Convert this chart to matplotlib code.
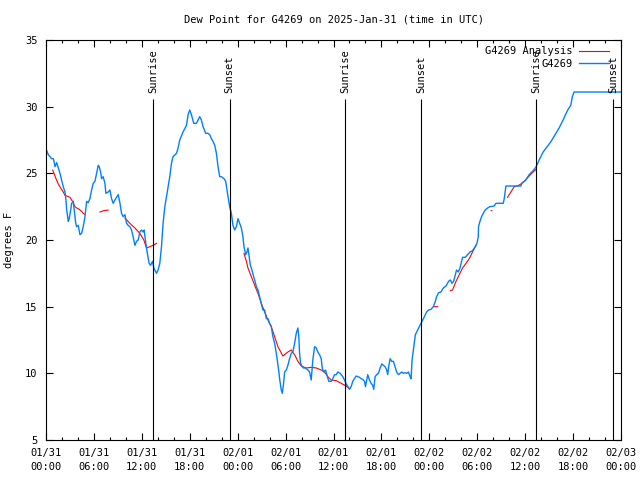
import numpy as np
import matplotlib
matplotlib.use("Agg")
import matplotlib.pyplot as plt
from matplotlib.ticker import MultipleLocator

plt.rcParams['font.family'] = ['DejaVu Sans Mono']
plt.rcParams['font.size'] = 7.5

# hours since 2025-01-31 00:00 UTC
obs_hours = [0.09, 0.29, 0.71, 0.91, 1.0, 1.13, 1.34, 1.75, 1.96, 2.16, 2.38, 2.5, 2.59, 2.79, 2.91,
             3.09, 3.21, 3.41, 3.54, 3.71, 3.84, 4.04, 4.25, 4.46, 4.66, 4.88, 5.09, 5.29, 5.5, 5.71,
             5.91, 6.13, 6.34, 6.54, 6.66, 6.84, 6.96, 7.16, 7.38, 7.5, 7.79, 8.0, 8.21, 8.41, 8.63,
             9.04, 9.25, 9.46, 9.66, 9.88, 10.09, 10.29, 10.5, 10.71, 10.91, 11.13, 11.34, 11.54, 11.75,
             11.96, 12.16, 12.29, 12.5, 12.66, 12.91, 13.09, 13.34, 13.5, 13.84, 14.04, 14.25, 14.46,
             14.66, 14.88, 15.09, 15.29, 15.5, 15.71, 15.91, 16.34, 16.54, 16.75, 17.16, 17.59, 17.79,
             18.0, 18.21, 18.5, 18.84, 19.04, 19.25, 19.46, 19.66, 20.0, 20.29, 20.5, 20.71, 20.91,
             21.13, 21.34, 21.54, 21.75, 21.96, 22.29, 22.5, 22.66, 22.79, 23.0, 23.21, 23.41, 23.63,
             23.84, 24.04, 24.25, 24.46, 24.66, 24.79, 25.0, 25.16, 25.29, 25.41, 25.59, 25.79, 26.0,
             26.13, 26.34, 26.54, 26.75, 26.96, 27.16, 27.38, 27.59, 27.79, 28.0, 28.21, 28.41, 28.63,
             28.84, 28.96, 29.13, 29.25, 29.46, 29.59, 29.75, 29.88, 30.09, 30.29, 30.5, 30.71, 30.91,
             31.13, 31.34, 31.54, 31.66, 31.75, 31.88, 32.09, 32.25, 32.5, 32.79, 33.0, 33.21, 33.41,
             33.63, 33.84, 34.04, 34.25, 34.46, 34.59, 34.75, 35.0, 35.16, 35.41, 35.71, 35.91, 36.13,
             36.34, 36.54, 36.84, 37.16, 37.38, 37.59, 37.91, 38.0, 38.21, 38.41, 38.63, 38.84, 39.04,
             39.25, 39.46, 39.66, 39.88, 40.0, 40.16, 40.29, 40.5, 40.71, 40.91, 41.04, 41.21, 41.41,
             41.63, 41.84, 42.04, 42.25, 42.46, 42.66, 42.79, 42.91, 43.09, 43.29, 43.5, 43.71, 43.91,
             44.13, 44.34, 44.54, 44.75, 44.96, 45.16, 45.38, 45.59, 45.71, 45.84, 46.0, 46.25, 46.41,
             46.66, 46.96, 47.16, 47.38, 47.66, 47.91, 48.21, 48.5, 48.75, 48.91, 49.16, 49.46, 49.75,
             50.09, 50.41, 50.63, 50.84, 51.04, 51.25, 51.41, 51.63, 51.84, 52.04, 52.16, 52.5, 52.79,
             53.09, 53.41, 53.75, 53.96, 54.13, 54.16, 54.34, 54.54, 54.75, 55.0, 55.29, 55.59, 56.13,
             56.34, 57.25, 57.38, 57.59, 59.46, 59.59, 59.88, 60.09, 60.5, 61.0, 61.38, 61.75, 62.25,
             62.75, 63.25, 63.75, 64.25, 64.75, 65.13, 65.38, 65.71, 65.91, 66.13, 72.0]
obs_dewpt = [26.7, 26.4, 26.1, 26.1, 25.9, 25.5, 25.8, 25.0, 24.5, 24.0, 23.6, 23.0, 22.25, 21.4, 21.6,
             22.25, 22.75, 22.9, 22.25, 21.3, 21.0, 21.1, 20.4, 20.5, 21.0, 21.75, 22.9, 22.8, 23.1, 23.75,
             24.25, 24.4, 25.0, 25.6, 25.5, 25.1, 24.6, 24.75, 24.25, 23.5, 23.6, 23.75, 23.1, 22.75, 23.0,
             23.4, 22.8, 22.0, 21.75, 21.9, 21.25, 21.1, 21.0, 20.75, 20.25, 19.6, 19.9, 20.0, 20.6,
             20.75, 20.6, 20.75, 19.75, 19.1, 18.25, 18.1, 18.4, 17.9, 17.5, 17.75, 18.25, 19.5,
             21.25, 22.5, 23.25, 24.0, 24.75, 25.75, 26.25, 26.5, 26.9, 27.5, 28.1, 28.6, 29.4,
             29.75, 29.4, 28.75, 28.75, 29.0, 29.25, 29.0, 28.5, 28.0, 28.0, 27.9, 27.6, 27.4,
             27.1, 26.5, 25.5, 24.75, 24.75, 24.6, 24.4, 23.75, 23.25, 22.5, 22.0, 21.1, 20.75,
             21.0, 21.6, 21.25, 20.9, 20.25, 19.5, 18.9, 19.1, 19.4, 18.9, 18.1, 17.75, 17.25,
             17.0, 16.5, 16.25, 15.75, 15.25, 14.75, 14.75, 14.1, 14.1, 13.75, 13.5, 12.75, 12.25,
             11.5, 11.0, 10.25, 9.6, 8.75, 8.5, 9.25, 10.1, 10.25, 10.6, 11.1, 11.5, 11.6,
             12.25, 13.0, 13.4, 12.75, 11.5, 10.75, 10.5, 10.4, 10.4, 10.25, 10.1, 9.5, 11.0,
             12.0, 11.9, 11.6, 11.4, 11.1, 10.4, 10.1, 10.25, 9.9, 9.4, 9.4, 9.6, 9.9,
             9.9, 10.1, 10.0, 9.75, 9.5, 9.2, 8.9, 8.8, 9.0, 9.4, 9.6, 9.8, 9.75,
             9.7, 9.6, 9.55, 9.4, 9.0, 9.5, 9.9, 9.5, 9.25, 9.1, 8.8, 9.75, 9.9,
             10.0, 10.4, 10.7, 10.6, 10.5, 10.25, 9.9, 10.5, 11.1, 10.9, 10.9, 10.5, 10.1,
             9.9, 10.0, 10.1, 10.0, 10.05, 10.0, 10.1, 9.75, 9.6, 11.0, 11.75, 12.9, 13.1,
             13.4, 13.75, 14.0, 14.25, 14.6, 14.75, 14.8, 15.0, 15.4, 15.75, 16.05, 16.1, 16.4,
             16.55, 16.9, 17.0, 16.75, 16.9, 17.4, 17.75, 17.6, 17.9, 18.4, 18.7, 18.7, 18.9,
             19.1, 19.2, 19.5, 19.75, 20.25, 21.0, 21.4, 21.75, 22.0, 22.25, 22.4, 22.5, 22.55,
             22.75, 22.75, 23.1, 24.05, 24.05, 24.25, 24.4, 24.5, 24.9, 25.2, 25.5, 26.0, 26.6,
             27.0, 27.4, 27.9, 28.4, 29.0, 29.5, 29.8, 30.1, 30.75, 31.1, 31.1]

# analysis series, gaps marked with nan
ana_hours = [0.84, 1.0, 1.25, 1.54, 1.84, 2.16, 2.38, 2.59, 3.0, 3.21, 3.41, 3.63, 3.84, 4.16, 4.46, 4.66, 4.88, np.nan,
             6.75, 7.25, 7.79, np.nan,
             9.88, 10.5, 11.13, 11.75, 12.25, 12.59, 13.0, 13.41, 13.84, np.nan,
             24.79, 25.09, 25.29, 25.71, 26.13, 26.54, 26.96, 27.38, 27.79, 28.21, 28.63, 29.04, 29.66, 30.29,
             30.71, 31.13, 31.54, 31.96, 32.59, 33.21, 33.84, 34.46, 34.88, 35.29, 35.71, 36.34, 36.96, 37.59,
             37.91, np.nan,
             48.63, 49.04, np.nan,
             50.63, 50.91, 51.34, 51.75, 52.16, 52.59, 53.0, 53.41, 53.84, np.nan,
             55.75, 55.83, np.nan,
             57.79, 58.21, 58.63, 59.04, 59.46, 59.88, 60.5, 61.0, 61.38]
ana_dewpt = [25.25, 25.0, 24.6, 24.2, 23.9, 23.6, 23.35, 23.3, 23.2, 23.0, 22.8, 22.5, 22.4, 22.3, 22.15, 22.0, 21.9, np.nan,
             22.1, 22.2, 22.25, np.nan,
             21.65, 21.25, 20.9, 20.5, 20.0, 19.4, 19.5, 19.6, 19.75, np.nan,
             19.0, 18.4, 17.9, 17.25, 16.6, 16.0, 15.25, 14.6, 14.0, 13.5, 12.75, 12.0, 11.3, 11.6,
             11.75, 11.4, 10.9, 10.55, 10.4, 10.45, 10.4, 10.25, 10.1, 9.75, 9.5, 9.45, 9.25, 9.05,
             8.9, np.nan,
             15.0, 15.0, np.nan,
             16.2, 16.25, 16.9, 17.4, 17.9, 18.25, 18.6, 19.1, 19.6, np.nan,
             22.2, 22.2, np.nan,
             23.2, 23.6, 24.0, 24.05, 24.2, 24.4, 24.8, 25.1, 25.3]

event_hours = [13.4, 23.0, 37.5, 47.0, 61.4, 71.0]
event_names = ["Sunrise", "Sunset", "Sunrise", "Sunset", "Sunrise", "Sunset"]

tick_hours = list(range(0, 73, 6))
tick_labels = ["01/31\n00:00", "01/31\n06:00", "01/31\n12:00", "01/31\n18:00",
               "02/01\n00:00", "02/01\n06:00", "02/01\n12:00", "02/01\n18:00",
               "02/02\n00:00", "02/02\n06:00", "02/02\n12:00", "02/02\n18:00",
               "02/03\n00:00"]

fig = plt.figure(figsize=(6.4, 4.8), dpi=100)
ax = fig.add_axes([46/640, 40/480, 575/640, 400/480])

ax.plot(ana_hours, ana_dewpt, color='#ff0000', lw=0.8, label='G4269 Analysis')
ax.plot(obs_hours, obs_dewpt, color='#0080ff', lw=1.0, label='G4269')

for t, name in zip(event_hours, event_names):
    ax.vlines(t, 5, 30.6, color='black', lw=0.8)
    ax.text(t, 31.0, name, rotation=90, ha='center', va='bottom', fontsize=7.5)

ax.set_xlim(0, 72)
ax.set_ylim(5, 35)
ax.set_xticks(tick_hours)
ax.set_xticklabels(tick_labels, linespacing=1.4)
ax.xaxis.set_minor_locator(MultipleLocator(2))
ax.yaxis.set_major_locator(MultipleLocator(5))
ax.tick_params(which='both', direction='in', top=True, right=True, width=0.8)
ax.tick_params(which='major', length=5)
ax.tick_params(which='minor', length=2.5)
ax.tick_params(axis='x', pad=6)
ax.tick_params(axis='y', pad=6)
for s in ax.spines.values():
    s.set_linewidth(0.8)

ax.set_ylabel('degrees F')
ax.yaxis.set_label_coords(-0.055, 0.5)
fig.text(333.5/640, 1 - 19/480, 'Dew Point for G4269 on 2025-Jan-31 (time in UTC)',
         ha='center', va='center', fontsize=7.5)

ax.legend(loc='upper right', bbox_to_anchor=(0.99, 1.0), frameon=False, markerfirst=False,
          handlelength=2.9, borderaxespad=0.2, labelspacing=0.25, handletextpad=0.6, fontsize=7.5)

fig.savefig('out.png', dpi=100)
